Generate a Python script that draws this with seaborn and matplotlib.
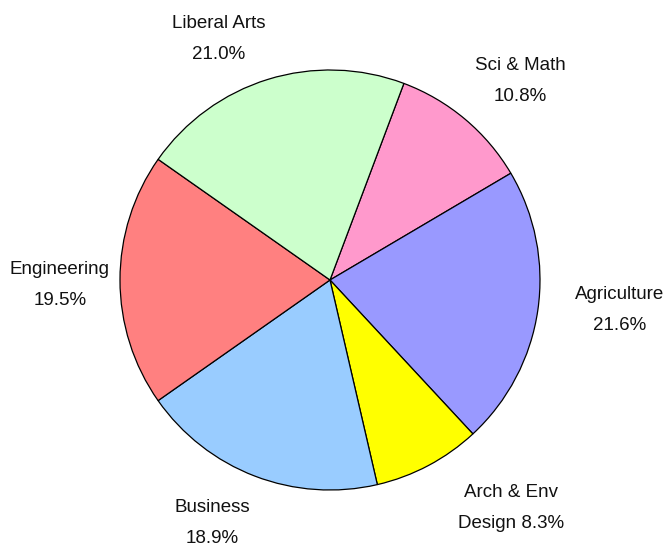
import matplotlib
matplotlib.use("Agg")
import matplotlib.pyplot as plt
import seaborn as sns

# Dados (sentido horário a partir do topo)
categorias = ['Sci & Math', 'Agriculture', 'Arch & Env\nDesign', 'Business', 'Engineering', 'Liberal Arts']
percentuais = [10.8, 21.6, 8.3, 18.9, 19.5, 21.0]
cores = ['#FF99CC', '#9999FF', '#FFFF00', '#99CCFF', '#FF8080', '#CCFFCC']

# posição dos rótulos (unidades do raio)
pos_rotulos = [(0.905, 0.948), (1.381, -0.143), (0.862, -1.086),
               (-0.562, -1.157), (-1.286, -0.024), (-0.529, 1.148)]

sns.set_style("white")
plt.rcParams['font.family'] = ['Liberation Sans', 'DejaVu Sans']

fig = plt.figure(figsize=(6.71, 5.48), dpi=100)
ax = fig.add_axes([0, 0, 1, 1])

ax.pie(percentuais, colors=cores, startangle=69.4, counterclock=False,
       radius=1.0, wedgeprops={'edgecolor': 'black', 'linewidth': 0.9})

for nome, valor, (x, y) in zip(categorias, percentuais, pos_rotulos):
    if '\n' in nome:
        texto = f"{nome} {valor:.1f}%"
    else:
        texto = f"{nome}\n{valor:.1f}%"
    ax.text(x, y, texto, ha='center', va='center', fontsize=13.5,
            linespacing=2.05, color='#111111')

ax.set_xlim(-330 / 210, 341 / 210)
ax.set_ylim(-268 / 210, 280 / 210)
ax.set_aspect('auto')
ax.axis('off')

fig.savefig('out.png', dpi=100, facecolor='white')
